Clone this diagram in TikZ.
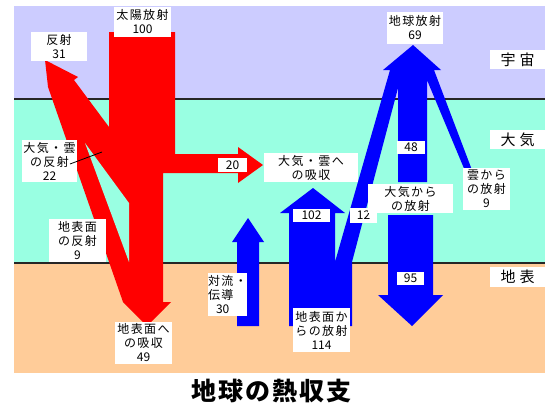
\documentclass[tikz,border=0pt]{standalone}
\usepackage{fontspec}
\newfontfamily\jp{Noto Sans CJK JP}
\newfontfamily\jpsp[LetterSpace=12]{Noto Sans CJK JP}
\newfontfamily\jptitle[LetterSpace=8]{Noto Sans CJK JP}
\definecolor{skyc}{HTML}{CCCCFF}
\definecolor{airc}{HTML}{99FFE2}
\definecolor{soilc}{HTML}{FFCC99}
\definecolor{sunred}{HTML}{FF0000}
\definecolor{earthblue}{HTML}{0000FF}
\newcommand\dg[1]{{\jp #1}}
\tikzset{
  lbl/.style={fill=white, inner sep=0pt, align=center,
    font=\jpsp\fontsize{12}{14}\selectfont},
  zone/.style={fill=white, inner sep=0pt, minimum width=55pt, minimum height=19pt,
    font=\jp\fontsize{15}{17}\selectfont},
  sep/.style={line width=2pt, draw=black!85},
}
\begin{document}
\begin{tikzpicture}[x=1pt,y=-1pt]
\useasboundingbox (0,0) rectangle (545,407);
\fill[white] (0,0) rectangle (545,407);
% layers
\fill[skyc] (14,6) rectangle (545,99);
\fill[airc] (14,99) rectangle (545,263);
\fill[soilc] (14,263) rectangle (545,373);
\draw[sep] (14,99) -- (545,99);
\draw[sep] (14,263) -- (545,263);
% solar (red)
\fill[sunred] (109,32) -- (175,32) -- (175,154) -- (238,154) -- (238,147) -- (263,165)
  -- (238,183) -- (238,173) -- (163,173) -- (163,302) -- (171,302) -- (147,326)
  -- (123,302) -- (48,87) -- (45,60) -- (78,77) -- (74,80) -- (109,127) -- cycle;
\fill[airc] (85,143) -- (129,203) -- (129,262) -- cycle;
% terrestrial (blue)
\fill[earthblue] (237,326) -- (237,242) -- (232,242) -- (248,218) -- (264,242)
  -- (259,242) -- (259,326) -- cycle;
\fill[earthblue] (289,326) -- (289,213) -- (280,213) -- (313,188) -- (345,213)
  -- (335,213) -- (335,262) -- (390,70) -- (383,70) -- (413,45) -- (441,70)
  -- (434,70) -- (475,178) -- (468,178) -- (427,80) -- (427,182) -- (398,182)
  -- (398,88) -- (352,262) -- (352,326) -- cycle;
\fill[earthblue] (388,215) -- (433,215) -- (433,295) -- (443,295) -- (412,326)
  -- (378,295) -- (388,295) -- cycle;
% labels
\node[lbl, minimum width=57pt, minimum height=30pt] (sun) at (142.5,22) {太陽放射\\\dg{100}};
\node[lbl, minimum width=56pt, minimum height=29pt] (refl) at (59,46.5) {反射\\\dg{31}};
\node[lbl, minimum width=55pt, minimum height=42pt] (arefl) at (49.5,161) {大気・雲\\の反射\\\dg{22}};
\node[lbl, minimum width=57pt, minimum height=43pt] (grefl) at (77.5,240.5) {地表面\\の反射\\\dg{9}};
\node[lbl, minimum width=29pt, minimum height=14pt] (n20) at (232.5,165) {\dg{20}};
\node[lbl, minimum width=94pt, minimum height=29pt] (aabs) at (311,167.5) {大気・雲へ\\の吸収};
\node[lbl, minimum width=39pt, minimum height=43pt, align=left] (conv) at (227.5,294.5) {対流・\\伝導\\\hspace*{8pt}\dg{30}};
\node[lbl, minimum width=57pt, minimum height=42pt] (gabs) at (143.5,343) {地表面へ\\の吸収\\\dg{49}};
\node[lbl, minimum width=37pt, minimum height=13pt] (n102) at (311.5,215) {\dg{102}};
\node[lbl, minimum width=27pt, minimum height=15pt] (n12) at (363.5,215.5) {\dg{12}};
\node[lbl, minimum width=57pt, minimum height=44pt] (grad) at (321.5,330) {地表面か\\らの放射\\\dg{114}};
\node[lbl, minimum width=85pt, minimum height=29pt] (arad) at (410.5,198.5) {大気から\\の放射};
\node[lbl, minimum width=28pt, minimum height=13pt] (n48) at (411,147.5) {\dg{48}};
\node[lbl, minimum width=27pt, minimum height=13pt] (n95) at (410.5,278.5) {\dg{95}};
\node[lbl, minimum width=56pt, minimum height=32pt] (erad) at (415,28) {地球放射\\\dg{69}};
\node[lbl, minimum width=47pt, minimum height=42pt] (crad) at (486.5,189) {雲から\\の放射\\\dg{9}};
\node[zone] (space) at (517.5,59.5) {宇\hspace{4pt}宙};
\node[zone] (atmos) at (517.5,139.5) {大\hspace{4pt}気};
\node[zone, minimum height=20pt] (surf) at (517.5,277) {地\hspace{4pt}表};
% pointer of the 22 label
\coordinate (p22a) at (70,164);
\coordinate (p22b) at (102,152);
\draw[line width=0.8pt] (p22a) -- (p22b);
% title
\node[font=\jptitle\bfseries\fontsize{25}{30}\selectfont, inner sep=0pt] (title) at (271,391) {地球の熱収支};
\end{tikzpicture}
\end{document}
